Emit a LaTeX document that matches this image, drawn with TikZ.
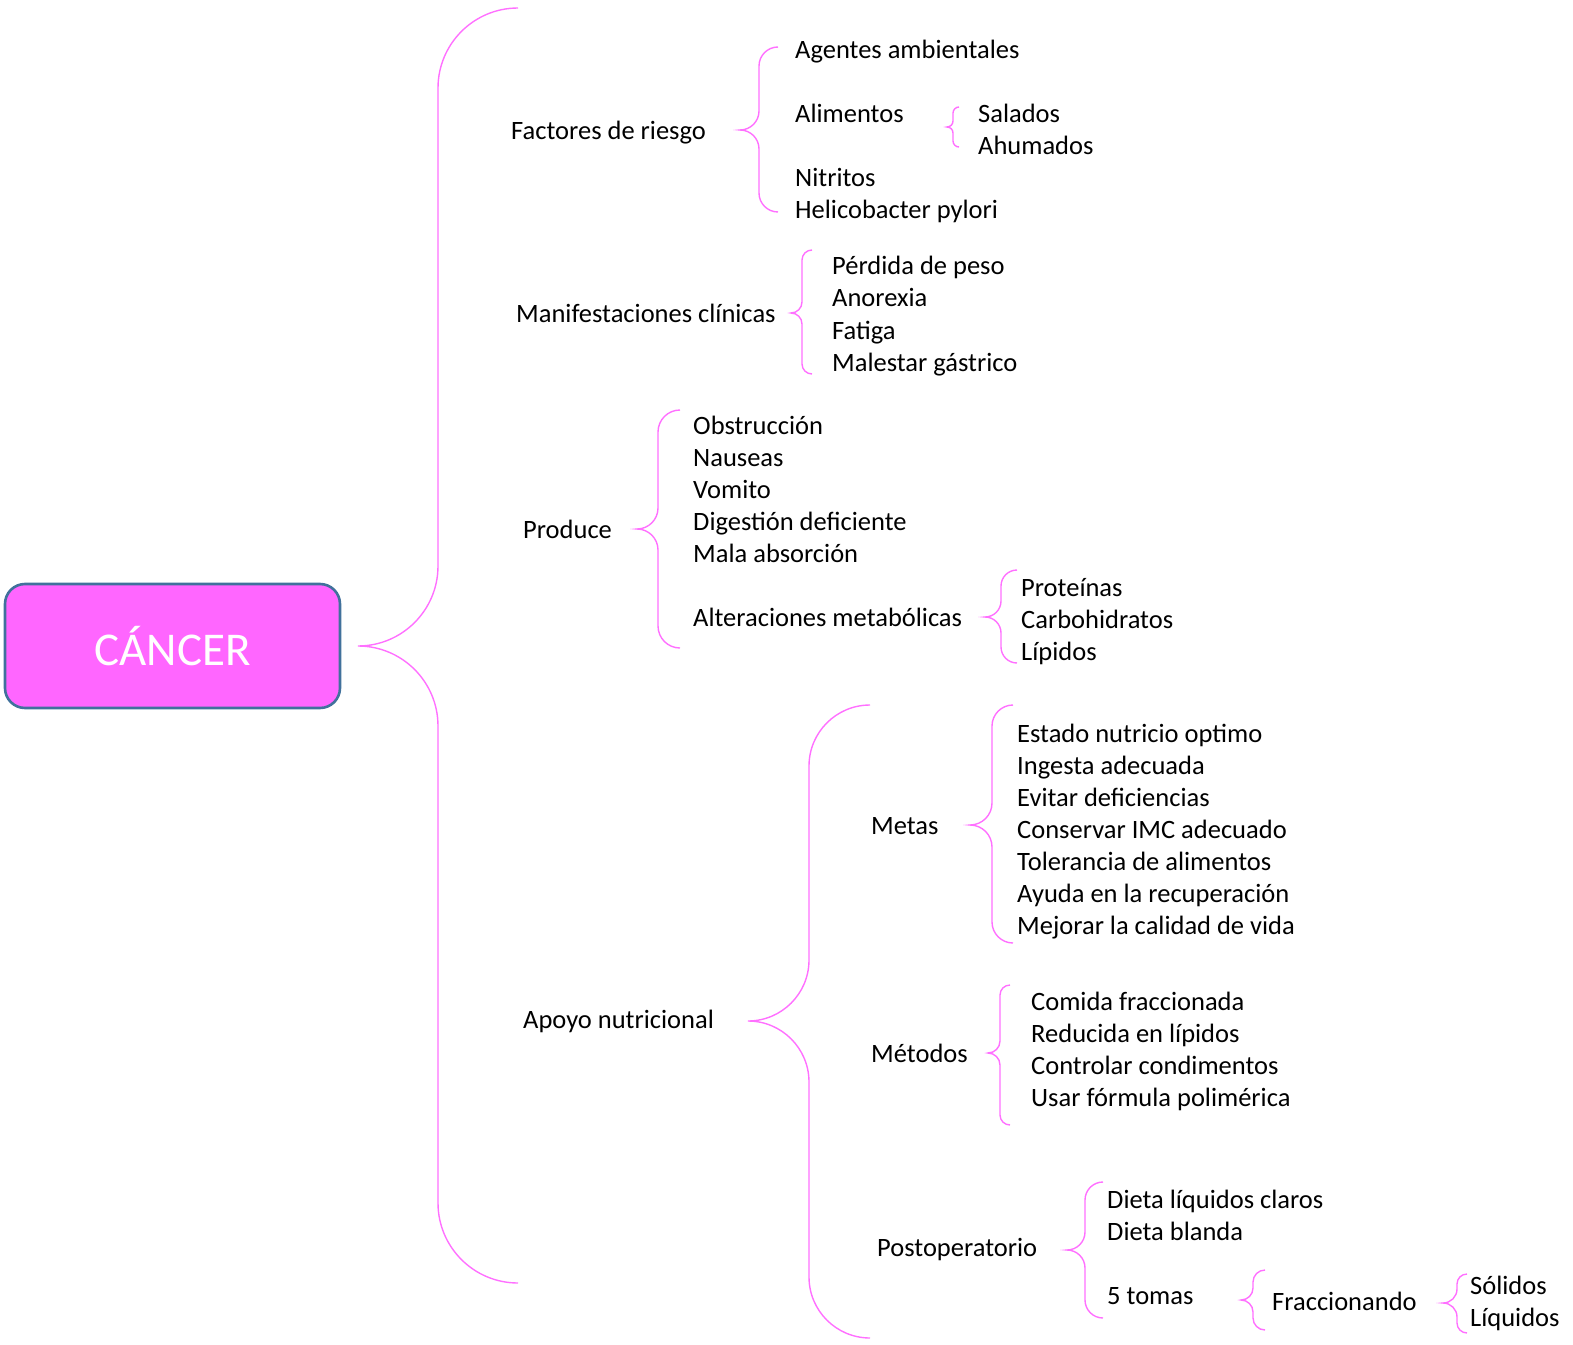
\documentclass[tikz,border=0pt]{standalone}
\usepackage{fontspec}
\setmainfont{Carlito}
\definecolor{bracepink}{HTML}{FF70FF}
\definecolor{boxpink}{HTML}{FF66FF}
\definecolor{boxedge}{HTML}{41719C}
\newcommand\cbrace[6]{% tip x, vertical x, arm x, top y, mid y, bottom y
  \draw[bracel] (#3,#4) .. controls ({#3-0.552*(#3-#2)},#4) and (#2,{#4+0.448*(#3-#2)}) .. (#2,{#4+(#3-#2)})
   -- (#2,{#5-(#2-#1)}) .. controls (#2,{#5-0.448*(#2-#1)}) and ({#1+0.552*(#2-#1)},#5) .. (#1,#5)
   .. controls ({#1+0.552*(#2-#1)},#5) and (#2,{#5+0.448*(#2-#1)}) .. (#2,{#5+(#2-#1)})
   -- (#2,{#6-(#3-#2)}) .. controls (#2,{#6-0.448*(#3-#2)}) and ({#3-0.552*(#3-#2)},#6) .. (#3,#6);}
\begin{document}
\begin{tikzpicture}[x=1bp,y=-1bp,
  bracel/.style={draw=bracepink,line width=1.4bp},
  lbl/.style={anchor=base west,inner sep=0pt,font=\fontsize{26.5bp}{32bp}\selectfont,text=black},
  rootbox/.style={draw=boxedge,line width=2.6bp,fill=boxpink,rounded corners=20bp,
    minimum width=335bp,minimum height=124bp,inner sep=0pt,text=white,
    font=\fontsize{47bp}{56bp}\selectfont}]
\useasboundingbox (0,0) rectangle (1573,1345);
% root
\node[rootbox] (root) at (172.5,646) {CÁNCER};
% braces
\cbrace{358}{438}{518}{8}{646}{1283}
\cbrace{740}{759}{778}{47}{130}{212}
\cbrace{947}{953}{959}{107}{127}{147}
\cbrace{791}{802}{812}{250}{313}{374}
\cbrace{637}{658}{680}{410}{529}{648}
\cbrace{985}{1001}{1017}{570}{617}{663}
\cbrace{748}{809}{870}{705}{1021}{1338}
\cbrace{970}{992}{1013}{705}{825}{943}
\cbrace{988}{1000}{1010}{985}{1053}{1125}
\cbrace{1067}{1085}{1103}{1182}{1250}{1318}
\cbrace{1241}{1253}{1265}{1270}{1300}{1330}
\cbrace{1443}{1457}{1467}{1274}{1303}{1333}
% Factores de riesgo
\node[lbl] (fac) at (511,140) {Factores de riesgo};
\node[lbl] (f1) at (795,59) {Agentes ambientales};
\node[lbl] (f2) at (795,123) {Alimentos};
\node[lbl] (f21) at (978,123) {Salados};
\node[lbl] (f22) at (978,155) {Ahumados};
\node[lbl] (f3) at (795,187) {Nitritos};
\node[lbl] (f4) at (795,219) {Helicobacter pylori};
% Manifestaciones
\node[lbl] (man) at (516,322) {Manifestaciones clínicas};
\node[lbl] (m1) at (832,275) {Pérdida de peso};
\node[lbl] (m2) at (832,307) {Anorexia};
\node[lbl] (m3) at (832,339) {Fatiga};
\node[lbl] (m4) at (832,371) {Malestar gástrico};
% Produce
\node[lbl] (pro) at (523,538) {Produce};
\node[lbl] (p1) at (693,434) {Obstrucción};
\node[lbl] (p2) at (693,466) {Nauseas};
\node[lbl] (p3) at (693,498) {Vomito};
\node[lbl] (p4) at (693,530) {Digestión deficiente};
\node[lbl] (p5) at (693,562) {Mala absorción};
\node[lbl] (p6) at (693,626) {Alteraciones metabólicas};
\node[lbl] (a1) at (1021,596) {Proteínas};
\node[lbl] (a2) at (1021,628) {Carbohidratos};
\node[lbl] (a3) at (1021,660) {Lípidos};
% Apoyo nutricional
\node[lbl] (apo) at (523,1028) {Apoyo nutricional};
\node[lbl] (met) at (871,834) {Metas};
\node[lbl] (e1) at (1017,742) {Estado nutricio optimo};
\node[lbl] (e2) at (1017,774) {Ingesta adecuada};
\node[lbl] (e3) at (1017,806) {Evitar deficiencias};
\node[lbl] (e4) at (1017,838) {Conservar IMC adecuado};
\node[lbl] (e5) at (1017,870) {Tolerancia de alimentos};
\node[lbl] (e6) at (1017,902) {Ayuda en la recuperación};
\node[lbl] (e7) at (1017,934) {Mejorar la calidad de vida};
\node[lbl] (mto) at (871,1062) {Métodos};
\node[lbl] (t1) at (1031,1010) {Comida fraccionada};
\node[lbl] (t2) at (1031,1042) {Reducida en lípidos};
\node[lbl] (t3) at (1031,1074) {Controlar condimentos};
\node[lbl] (t4) at (1031,1106) {Usar fórmula polimérica};
\node[lbl] (pos) at (877,1256) {Postoperatorio};
\node[lbl] (o1) at (1107,1208) {Dieta líquidos claros};
\node[lbl] (o2) at (1107,1240) {Dieta blanda};
\node[lbl] (o3) at (1107,1304) {5 tomas};
\node[lbl] (fr) at (1272,1310) {Fraccionando};
\node[lbl] (s1) at (1470,1294) {Sólidos};
\node[lbl] (s2) at (1470,1326) {Líquidos};
\end{tikzpicture}
\end{document}
